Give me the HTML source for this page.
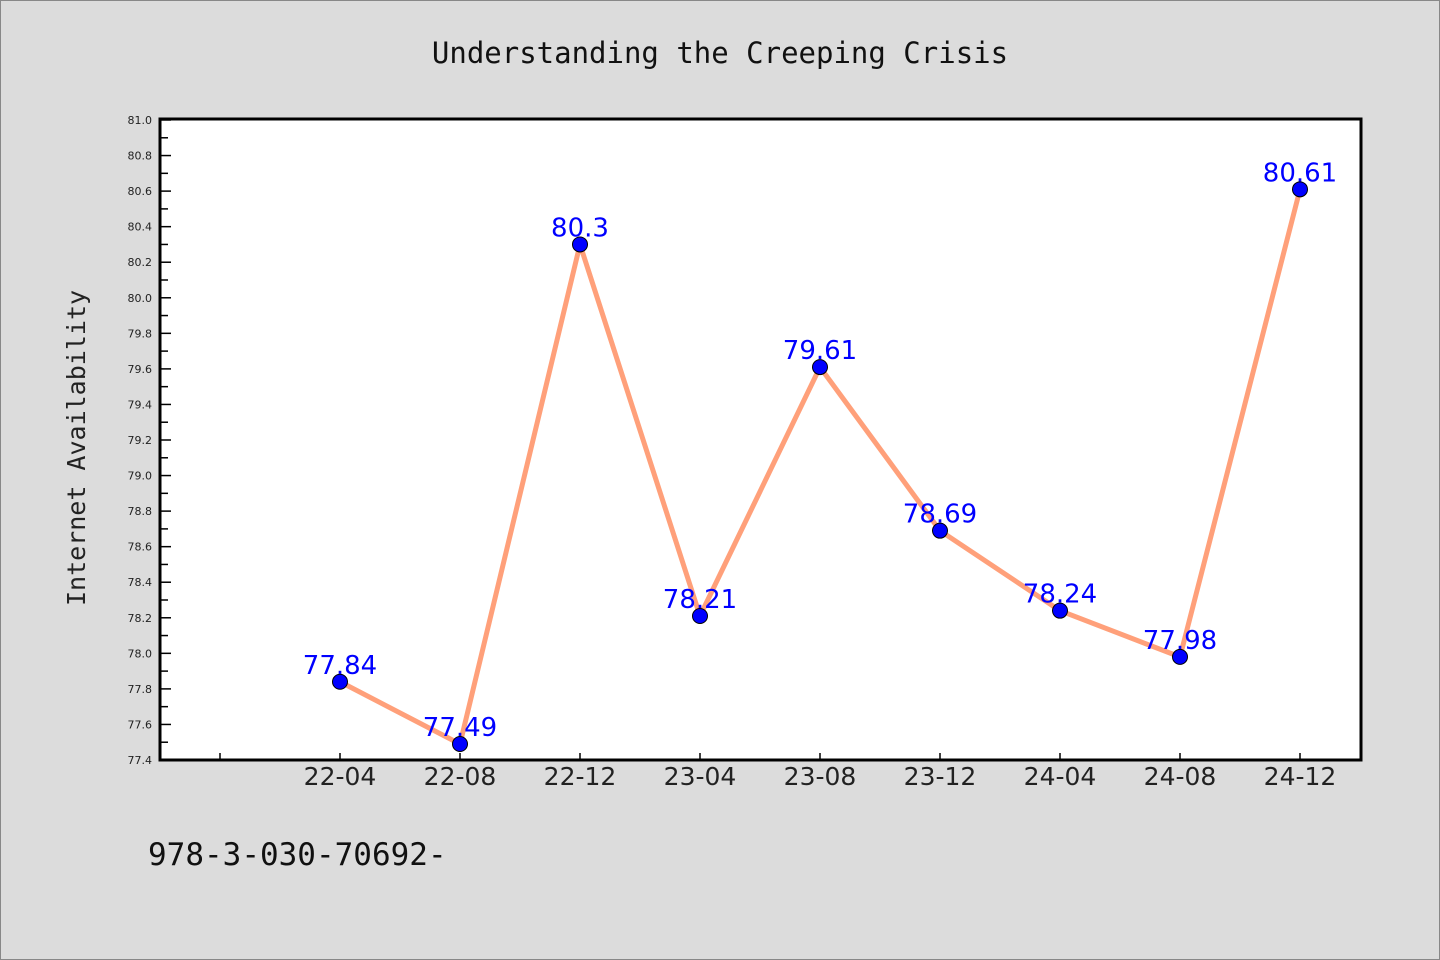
<!DOCTYPE html>
<html><head><meta charset="utf-8"><style>
html,body{margin:0;padding:0;background:#dcdcdc;}
svg{display:block;font-family:"DejaVu Sans","Liberation Sans",sans-serif;}
</style></head><body>
<div>
<svg id="chart" width="1440" height="960" viewBox="0 0 1440 960">
<rect x="0.5" y="0.5" width="1439" height="959" fill="#dcdcdc" stroke="#888" stroke-width="1"/>
<text x="720" y="63" text-anchor="middle" font-family="'DejaVu Sans Mono','Liberation Mono',monospace" font-size="29" fill="#111">Understanding the Creeping Crisis</text>
<rect x="160" y="119" width="1201" height="641" fill="#fff"/>
<g id="yaxis"></g>
<g id="xaxis"></g>
<g id="series"></g>
<rect x="160" y="119" width="1201" height="641" fill="none" stroke="#000" stroke-width="3"/>
<text transform="translate(85,448) rotate(-90)" text-anchor="middle" font-family="'DejaVu Sans Mono','Liberation Mono',monospace" font-size="25" fill="#222">Internet Availability</text>
<text x="148" y="865" font-family="'DejaVu Sans Mono','Liberation Mono',monospace" font-size="31" fill="#111">978-3-030-70692-</text>
</svg>
</div>
<script>
const categories = ["22-04","22-08","22-12","23-04","23-08","23-12","24-04","24-08","24-12"];
const values = [77.84,77.49,80.3,78.21,79.61,78.69,78.24,77.98,80.61];
const valueLabels = ["77.84","77.49","80.3","78.21","79.61","78.69","78.24","77.98","80.61"];
const yTicks = ["77.4","77.6","77.8","78.0","78.2","78.4","78.6","78.8","79.0","79.2","79.4","79.6","79.8","80.0","80.2","80.4","80.6","80.8","81.0"];
const NS="http://www.w3.org/2000/svg";
const yMin=77.4,yMax=81.0,plotTop=120,plotBot=760;
function yScale(v){return plotBot-(v-yMin)/(yMax-yMin)*(plotBot-plotTop);}
function xScale(i){return 340+120*i;}
function mk(tag,attrs,parent){const e=document.createElementNS(NS,tag);for(const k in attrs)e.setAttribute(k,attrs[k]);parent.appendChild(e);return e;}
const ya=document.getElementById('yaxis'),xa=document.getElementById('xaxis'),sg=document.getElementById('series');
yTicks.forEach((t,i)=>{
  const v=parseFloat(t),yy=yScale(v);
  const l=mk('line',{x1:160,x2:171,y1:yy,y2:yy,stroke:'#000','stroke-width':1.5},ya);
  
  
  const tx=mk('text',{x:152,y:yy+4,'text-anchor':'end','font-size':11,fill:'#222'},ya);
  
  
  tx.textContent=t;
  if(i<yTicks.length-1){const ym=yScale(v+0.1);
    const m=mk('line',{x1:160,x2:168,y1:ym,y2:ym,stroke:'#000','stroke-width':1.5},ya);
    
    }
});
for(let i=-1;i<categories.length;i++){
  const l=mk('line',{x1:xScale(i),x2:xScale(i),y1:760,y2:753,stroke:'#000','stroke-width':1.5},xa);
  
  
  if(i>=0){const t=mk('text',{x:xScale(i),y:785,'text-anchor':'middle','font-size':25,fill:'#222'},xa);
    
    
    t.textContent=categories[i];}
}
const pts=values.map((v,i)=>xScale(i)+','+yScale(v)).join(' ');
const pl=mk('polyline',{points:pts,fill:'none',stroke:'#ffa07a','stroke-width':5,'stroke-linejoin':'round'},sg);


values.forEach((v,i)=>{
  const c=mk('circle',{cx:xScale(i),cy:yScale(v),r:7.5,fill:'#0000ff',stroke:'#000','stroke-width':1},sg);
  
  
  const t=mk('text',{x:xScale(i),y:yScale(v)-8,'text-anchor':'middle','font-size':26,fill:'#0000ff'},sg);
  
  
  t.textContent=valueLabels[i];
});
</script>
</body></html>
